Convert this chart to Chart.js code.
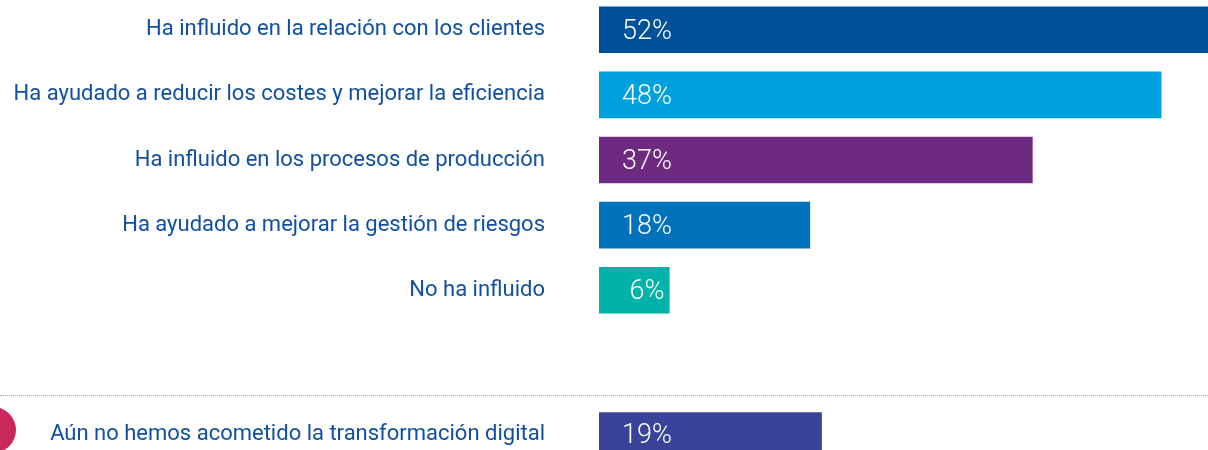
<!DOCTYPE html>
<html lang="es">
<head>
<meta charset="utf-8">
<title>Impacto de la transformación digital</title>
<script src="https://cdn.jsdelivr.net/npm/chart.js@4.4.1/dist/chart.umd.min.js"></script>
<style>
  html, body { margin: 0; padding: 0; background: #fff; }
  body { width: 1208px; height: 450px; overflow: hidden; position: relative; }
  canvas { position: absolute; left: 0; display: block; }
  #impactChart { top: -16px; }
  #pendingChart { top: 399px; }
  .divider { position: absolute; left: 0; top: 395px; width: 1208px; border-top: 1px dotted #a8a8a8; }
  .dot { position: absolute; left: -30px; top: 407px; width: 46px; height: 46px; border-radius: 50%; background: #c8285a; }
</style>
</head>
<body>
<canvas id="impactChart" width="1208" height="352"></canvas>
<div class="divider"></div>
<div class="dot"></div>
<canvas id="pendingChart" width="1208" height="70"></canvas>
<script>
// Effects of the digital transformation (% of companies)
const categories = [
  'Ha influido en la relación con los clientes',
  'Ha ayudado a reducir los costes y mejorar la eficiencia',
  'Ha influido en los procesos de producción',
  'Ha ayudado a mejorar la gestión de riesgos',
  'No ha influido'
];
const shares = [52, 48, 37, 18, 6];
const barColors = ['#00519b', '#009fde', '#6d2a80', '#0072bc', '#00b2a9'];

// Companies that have not started yet
const pendingCategories = ['Aún no hemos acometido la transformación digital'];
const pendingShares = [19];
const pendingColors = ['#3a439a'];

const AXIS_MAX = 52;
const LABEL_COLOR = '#1150a0';

// writes "NN%" inside each bar, near its start
const valueLabels = {
  id: 'valueLabels',
  afterDatasetsDraw(chart) {
    const { ctx } = chart;
    const meta = chart.getDatasetMeta(0);
    const values = chart.data.datasets[0].data;
    ctx.save();
    ctx.font = '300 27px Roboto, "Liberation Sans", Arial, sans-serif';
    ctx.fillStyle = '#ffffff';
    ctx.textAlign = 'center';
    ctx.textBaseline = 'middle';
    meta.data.forEach((bar, i) => {
      ctx.fillText(values[i] + '%', bar.base + 48, bar.y + 2);
    });
    ctx.restore();
  }
};

function renderBars(canvasId, labels, data, colors) {
  const ctx = document.getElementById(canvasId);
  if (!ctx || typeof Chart === 'undefined') return;

  return new Chart(ctx, {
    type: 'bar',
    data: {
      labels,
      datasets: [{
        data,
        backgroundColor: colors,
        borderWidth: 0,
        barThickness: 46
      }]
    },
    options: {
      indexAxis: 'y',
      responsive: false,
      animation: false,
      layout: { padding: 0 },
      plugins: {
        legend: { display: false },
        tooltip: { enabled: false }
      },
      scales: {
        x: { display: false, min: 0, max: AXIS_MAX },
        y: {
          // tickLength (not ticks.padding) keeps the gap between labels and bars,
          // so the category slots aren't squeezed vertically
          grid: { display: false, drawTicks: true, tickLength: 54 },
          border: { display: false },
          ticks: {
            color: LABEL_COLOR,
            padding: 0,
            font: { family: 'Roboto, "Liberation Sans", Arial, sans-serif', size: 22 }
          },
          afterFit(scale) { scale.width = 599; }
        }
      }
    },
    plugins: [valueLabels]
  });
}

renderBars('impactChart', categories, shares, barColors);
renderBars('pendingChart', pendingCategories, pendingShares, pendingColors);
</script>
</body>
</html>
